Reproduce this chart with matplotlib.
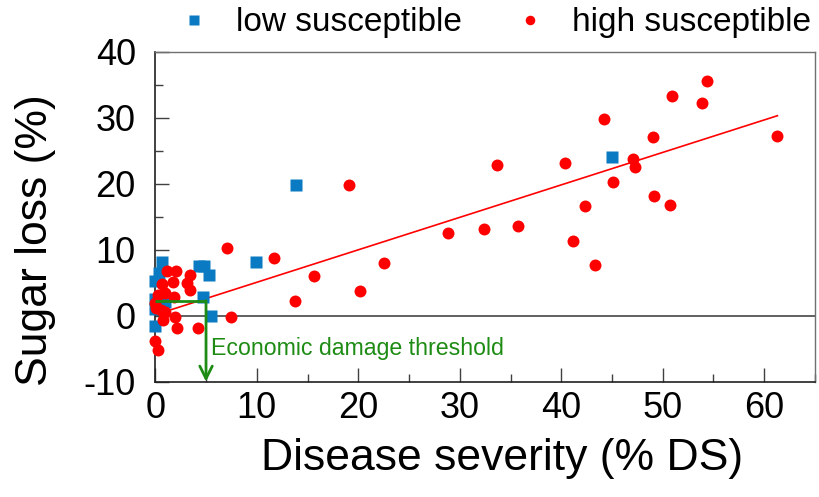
import matplotlib
matplotlib.use("Agg")
import matplotlib.pyplot as plt
from matplotlib.ticker import MultipleLocator
import numpy as np

plt.rcParams['font.family'] = ['Liberation Sans', 'DejaVu Sans']

# ---- data ----
low_x = [45.0, 13.9, 9.95, 4.3, 4.8, 5.3, 4.7, 5.5, 0.7, 0.4, 0.0, 0.0, 0.0, 0.0, 1.0]
low_y = [24.0, 19.8, 8.2, 7.6, 7.6, 6.1, 2.9, 0.0, 8.1, 6.5, 5.3, 2.6, 1.0, -1.6, 2.0]

high_x = [54.4, 50.9, 53.9, 44.2, 61.3, 49.0, 33.7, 40.4, 47.1, 47.3,
          45.1, 49.1, 50.7, 42.3, 28.8, 32.4, 35.7, 41.2, 43.3,
          19.1, 7.06, 11.7, 22.5, 15.6, 20.2, 13.8, 7.46,
          1.2, 2.0, 3.4, 3.1, 3.4, 0.7, 1.7, 0.3, 0.96, 1.8, 0.0, 0.1,
          0.6, 1.0, 0.8, 1.95, 2.1, 4.2, 0.0, 0.3]
high_y = [35.6, 33.3, 32.3, 29.8, 27.2, 27.0, 22.9, 23.2, 23.8, 22.6,
          20.2, 18.1, 16.8, 16.6, 12.5, 13.1, 13.6, 11.3, 7.7,
          19.8, 10.2, 8.7, 8.0, 6.0, 3.7, 2.2, -0.15,
          6.8, 6.8, 6.2, 4.9, 3.9, 4.8, 5.1, 3.1, 3.4, 2.9, 1.9, 1.2,
          0.9, 0.6, -0.65, -0.15, -1.9, -1.9, -3.8, -5.2]

fit_slope = 0.492
fit_intercept = 0.14
fit_x_range = [0.0, 61.3]

threshold_x = 5.0
threshold_y = 2.2
threshold_label = "Economic damage threshold"

x_ticks = [0, 10, 20, 30, 40, 50, 60]
y_ticks = [-10, 0, 10, 20, 30, 40]

# ---- figure ----
fig = plt.figure(figsize=(8.19, 4.97), dpi=100)
ax = fig.add_axes([0.1896, 0.232, 0.8055, 0.664])

blue = '#0a7bc2'
red = '#ff0000'
green = '#1e8c14'

ax.axhline(0, color='#606060', lw=1.4, zorder=1)

ax.plot(low_x, low_y, 's', color=blue, ms=8.4, mec='none', zorder=3,
        label='low susceptible', clip_on=False)
ax.plot(high_x, high_y, 'o', color=red, ms=8.6, mec='none', zorder=4,
        label='high susceptible', clip_on=False)

fx = np.array(fit_x_range)
ax.plot(fx, fit_intercept + fit_slope * fx, color=red, lw=1.2, zorder=2)

# threshold
ax.plot([0, threshold_x], [threshold_y, threshold_y], color=green, lw=2.0,
        zorder=5, solid_capstyle='butt')
ax.annotate('', xy=(threshold_x, -10), xytext=(threshold_x, threshold_y + 0.08),
            arrowprops=dict(arrowstyle='->,head_length=0.9,head_width=0.45',
                            color=green, lw=2.0, shrinkA=0, shrinkB=0),
            zorder=5, annotation_clip=False)
ax.text(threshold_x + 0.45, -5.0, threshold_label, color=green, fontsize=16.7,
        va='center', ha='left', zorder=6)

ax.set_xlim(0, 65)
ax.set_ylim(-10, 40)
ax.set_xticks(x_ticks)
ax.set_yticks(y_ticks)
ax.set_yticklabels([str(v) for v in y_ticks])
ax.xaxis.set_minor_locator(MultipleLocator(5))
ax.yaxis.set_minor_locator(MultipleLocator(5))
ax.tick_params(which='major', direction='in', length=10, width=1.0,
               color='#404040', labelsize=26)
ax.tick_params(which='minor', direction='in', length=6, width=1.0,
               color='#404040')
ax.tick_params(axis='x', pad=7)
ax.tick_params(axis='y', pad=14)

for s in ['left', 'bottom']:
    ax.spines[s].set_color('#202020')
    ax.spines[s].set_linewidth(1.2)
for s in ['top', 'right']:
    ax.spines[s].set_color('#707070')
    ax.spines[s].set_linewidth(1.0)

ax.set_xlabel('Disease severity (% DS)', fontsize=32, labelpad=8)
ax.set_ylabel('Sugar loss (%)', fontsize=32, labelpad=20)
ax.xaxis.label.set_x(0.5255)
ax.yaxis.label.set_y(0.43)

leg = ax.legend(loc='lower center', bbox_to_anchor=(0.507, 1.0), ncol=2,
                frameon=False, fontsize=24, markerscale=0.8,
                handletextpad=0.5, columnspacing=1.3, borderaxespad=0.0,
                handlelength=1.5)

fig.savefig('out.png', dpi=100)
